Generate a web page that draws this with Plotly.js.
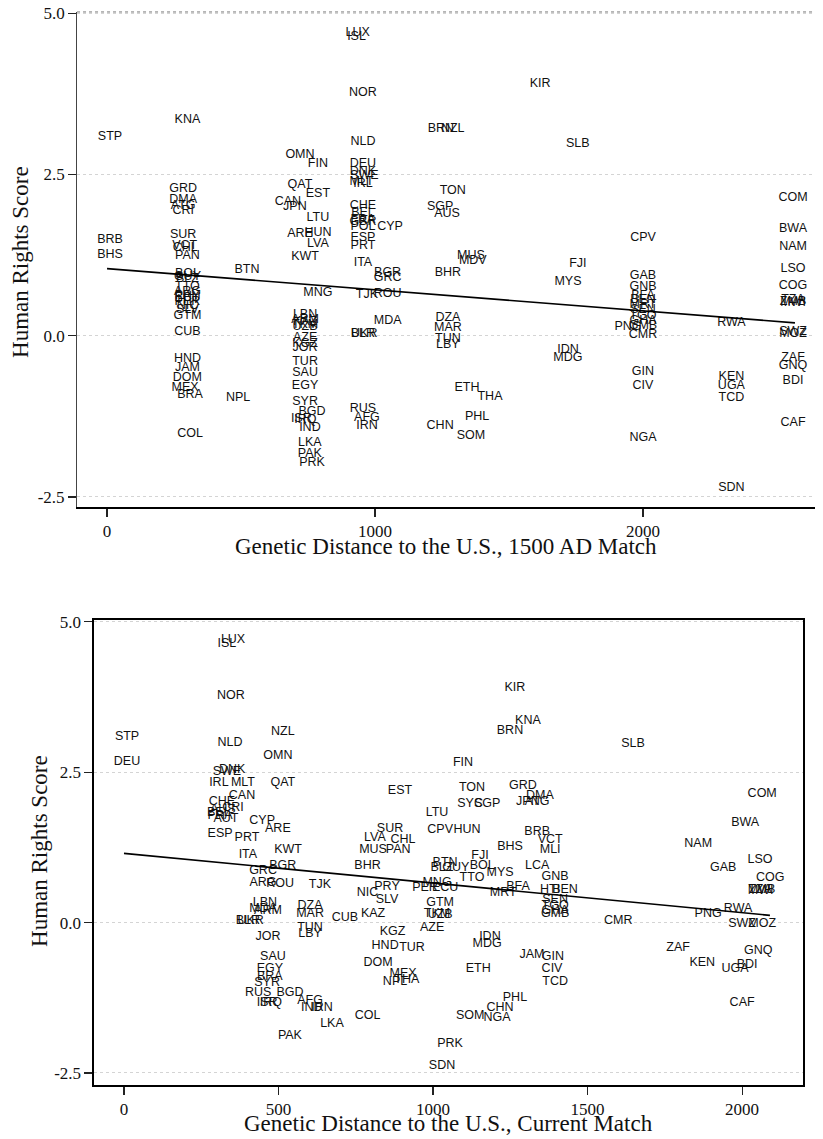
<!DOCTYPE html>
<html>
<head>
<meta charset="utf-8">
<script src="https://cdn.plot.ly/plotly-3.0.1.min.js"></script>
<style>html,body{margin:0;padding:0;background:#fff;}#chart{width:823px;height:1139px;}</style>
</head>
<body>
<div id="chart"></div>
<script>
// ---------- Panel 1: 1500 AD match ----------
const codes1500 = ["KNA","STP","GRD","DMA","ATG","CRI","SUR","BRB","VCT","CHL","BHS","PAN",
"BOL","GUY","BLZ","TTO","ARG","PRY","ECU","HTI","PER","NIC","SLV","GTM","CUB","HND","JAM","DOM","MEX","BRA","NPL","COL","BTN",
"LUX","ISL","NOR","BRN","NZL","NLD","OMN","FIN","DEU","DNK","SWE","MLT","IRL","QAT","EST","CAN","JPN","LTU","CHE","BEL","FRA","GBR","POL","CYP","ARE","HUN","LVA","ESP","PRT","KWT","ITA",
"TON","SGP","AUS","MUS","MDV","BGR","GRC","BHR","MNG","TJK","ROU","LBN","ARM","KAZ","TKM","UZB","MDA","BLR","UKR","DZA","MAR","TUN","LBY",
"AZE","KGZ","JOR","TUR","SAU","EGY","SYR","BGD","ISR","IRQ","IND","RUS","AFG","IRN","ETH","THA","PHL","CHN","SOM","LKA","PAK","PRK",
"KIR","SLB","COM","BWA","CPV","NAM","FJI","MYS","GAB","GNB","BFA","BEN","MRT","SEN","TGO","GHA","GMB","CMR","PNG","RWA",
"LSO","COG","TZA","ZMB","MWI","SWZ","MOZ","ZAF","GNQ","BDI","CAF","IDN","MDG","GIN","CIV","KEN","UGA","TCD","NGA","SDN"];
const dist1500 = [300,11,284,284,284,284,284,11,290,292,11,300,
300,300,300,300,300,300,300,300,300,300,300,300,300,300,300,300,291,310,489,310,522,
935,931,955,1246,1290,955,720,787,955,955,960,950,955,720,787,675,701,787,955,955,955,955,955,1056,720,787,787,955,955,739,955,
1290,1243,1269,1358,1365,1047,1047,1272,787,970,1047,739,739,739,739,739,1047,955,960,1272,1272,1272,1272,
739,739,739,739,739,739,739,765,725,740,757,955,970,970,1343,1429,1381,1243,1358,757,757,765,
1616,1757,2560,2560,2000,2560,1757,1720,2000,2000,2000,2000,2000,2000,2000,2000,2000,2000,1944,2330,
2560,2560,2560,2560,2560,2560,2560,2560,2560,2560,2560,1720,1720,2000,2000,2330,2330,2330,2000,2330];
const hr1500 = [3.34,3.09,2.27,2.11,2.02,1.93,1.57,1.49,1.40,1.36,1.26,1.24,
0.96,0.91,0.88,0.76,0.68,0.62,0.58,0.55,0.52,0.46,0.40,0.30,0.06,-0.36,-0.50,-0.65,-0.81,-0.92,-0.96,-1.52,1.02,
4.70,4.63,3.76,3.21,3.20,3.00,2.80,2.67,2.67,2.54,2.48,2.38,2.35,2.34,2.20,2.07,1.99,1.83,2.02,1.91,1.79,1.76,1.68,1.68,1.58,1.60,1.43,1.51,1.40,1.23,1.13,
2.25,1.99,1.89,1.24,1.16,0.98,0.89,0.98,0.67,0.64,0.65,0.33,0.25,0.21,0.17,0.13,0.23,0.03,0.03,0.28,0.12,-0.05,-0.14,
-0.03,-0.12,-0.19,-0.40,-0.57,-0.78,-1.02,-1.18,-1.29,-1.30,-1.43,-1.13,-1.27,-1.40,-0.81,-0.95,-1.26,-1.40,-1.55,-1.66,-1.83,-1.97,
3.91,2.98,2.14,1.66,1.52,1.38,1.12,0.84,0.93,0.75,0.62,0.55,0.48,0.40,0.31,0.23,0.15,0.02,0.14,0.20,
1.04,0.78,0.55,0.53,0.51,0.06,0.03,-0.34,-0.47,-0.70,-1.35,-0.22,-0.34,-0.56,-0.78,-0.64,-0.78,-0.96,-1.58,-2.36];
const fit1500X = [0, 2567];
const fit1500Y = [1.04, 0.20];

// ---------- Panel 2: current match ----------
const codesCur = ["LUX","ISL","NOR","STP","NLD","NZL","OMN","DEU","QAT","SWE","DNK","IRL","MLT","CAN","CHE","CRI","AUS","BEL","FRA","AUT","CYP","ARE","ESP","PRT","ITA","KWT",
"BGR","GRC","ARG","ROU","TJK","LBN","MDA","ARM","BLR","UKR","JOR","SAU","EGY","BRA","SYR","RUS","ISR","IRQ","PAK","BGD","AFG","IND","IRN","LKA","COL",
"DZA","MAR","TUN","LBY","CUB","KAZ","PRY","NIC","SLV","KGZ","HND","TUR","DOM","MEX","NPL","THA","BHR","BTN","GUY","BLZ","PER","ECU","MNG","GTM","TKM","UZB","AZE",
"IDN","MDG","ETH","PHL","CHN","SOM","NGA","PRK","SDN","FJI","BOL","TTO","MYS","MRT","BFA","KIR","KNA","BRN","FIN","EST","TON","GRD","SYC","SGP","DMA","JPN","ATG",
"LTU","SUR","LVA","CHL","MUS","PAN","CPV","HUN","BRB","VCT","BHS","MLI","LCA","SLB","COM","BWA","NAM","LSO","GAB","COG","TZA","ZMB","MWI",
"GNB","HTI","BEN","SEN","TGO","GHA","GMB","CMR","PNG","RWA","SWZ","MOZ","ZAF","GNQ","KEN","BDI","UGA","CAF","GIN","JAM","CIV","TCD"];
const distCur = [353,333,346,10,343,514,498,10,514,333,350,307,385,382,317,353,320,307,311,330,447,498,311,398,401,531,
514,450,450,505,634,456,450,466,401,410,466,482,472,472,463,434,463,475,537,537,602,608,641,673,788,
602,602,602,602,715,806,851,788,851,869,845,932,822,903,877,915,788,1039,1074,1029,974,1039,1013,1023,1013,1023,997,
1184,1175,1146,1265,1217,1120,1207,1055,1029,1152,1159,1126,1217,1227,1275,1265,1307,1249,1097,893,1126,1291,1120,1175,1346,1307,1337,
1013,861,812,903,806,887,1023,1110,1337,1379,1249,1379,1337,1647,2065,2010,1858,2058,1939,2091,2058,2065,2060,
1395,1379,1427,1395,1395,1395,1395,1599,1890,1987,2000,2065,1793,2052,1871,2016,1977,2000,1388,1320,1385,1395];
const hrCur = [4.70,4.63,3.77,3.09,2.99,3.17,2.77,2.67,2.33,2.51,2.53,2.33,2.33,2.11,2.01,1.91,1.88,1.83,1.78,1.73,1.69,1.56,1.48,1.40,1.13,1.20,
0.95,0.86,0.66,0.65,0.62,0.32,0.22,0.20,0.02,0.02,-0.24,-0.57,-0.77,-0.91,-1.01,-1.17,-1.34,-1.34,-1.88,-1.17,-1.30,-1.42,-1.42,-1.68,-1.55,
0.28,0.15,-0.08,-0.18,0.07,0.15,0.60,0.49,0.38,-0.15,-0.38,-0.42,-0.67,-0.85,-0.98,-0.96,0.95,1.00,0.91,0.91,0.57,0.58,0.66,0.32,0.15,0.13,-0.08,
-0.24,-0.35,-0.77,-1.26,-1.42,-1.55,-1.58,-2.01,-2.38,1.11,0.95,0.75,0.83,0.49,0.60,3.90,3.36,3.19,2.66,2.19,2.24,2.28,1.98,1.98,2.11,2.01,2.01,
1.83,1.56,1.41,1.37,1.20,1.20,1.54,1.54,1.51,1.37,1.25,1.20,0.95,2.97,2.14,1.66,1.31,1.04,0.91,0.75,0.55,0.55,0.53,
0.76,0.55,0.55,0.38,0.27,0.20,0.15,0.02,0.15,0.22,-0.02,-0.03,-0.42,-0.47,-0.67,-0.71,-0.77,-1.34,-0.57,-0.53,-0.77,-0.98];
const fitCurX = [0, 2090];
const fitCurY = [1.15, 0.12];

// ---------- tick labels and titles ----------
const yTickVals = [-2.5, 0, 2.5, 5];
const yTickText = ["-2.5", "0.0", "2.5", "5.0"];
const x1TickVals = [0, 1000, 2000];
const x2TickVals = [0, 500, 1000, 1500, 2000];
const yTitle = "Human Rights Score";
const x1Title = "Genetic Distance to the U.S., 1500 AD Match";
const x2Title = "Genetic Distance to the U.S., Current Match";

const labelFont = {family: "Liberation Sans, Arial, sans-serif", size: 12.5, color: "#111"};
const serif = "Liberation Serif, Times New Roman, serif";
const titleFont = {family: serif, size: 23, color: "#111"};

const traces = [
  {x: dist1500, y: hr1500, text: codes1500, mode: "text", type: "scatter",
   textposition: "middle center", textfont: labelFont, xaxis: "x", yaxis: "y", cliponaxis: false, hoverinfo: "skip"},
  {x: fit1500X, y: fit1500Y, mode: "lines", type: "scatter", line: {color: "#000", width: 1.6},
   xaxis: "x", yaxis: "y", hoverinfo: "skip"},
  {x: distCur, y: hrCur, text: codesCur, mode: "text", type: "scatter",
   textposition: "middle center", textfont: labelFont, xaxis: "x2", yaxis: "y2", cliponaxis: false, hoverinfo: "skip"},
  {x: fitCurX, y: fitCurY, mode: "lines", type: "scatter", line: {color: "#000", width: 1.6},
   xaxis: "x2", yaxis: "y2", hoverinfo: "skip"}
];

const commonY = {
  tickmode: "array", tickvals: yTickVals, ticktext: yTickText,
  ticks: "outside", ticklen: 8, tickcolor: "#222", tickwidth: 1.2,
  tickfont: {family: serif, size: 17, color: "#111"},
  showgrid: true, gridcolor: "#d4d4d4", griddash: "dot", gridwidth: 1,
  zeroline: false, showline: true, linecolor: "#444", linewidth: 1
};
const commonX = {
  tickmode: "array", ticks: "outside", ticklen: 8, tickcolor: "#222", tickwidth: 1.2,
  tickfont: {family: serif, size: 17, color: "#111"},
  showgrid: false, zeroline: false, showline: true, linecolor: "#000", linewidth: 1.8
};

const layout = {
  width: 823, height: 1139,
  margin: {l: 0, r: 0, t: 0, b: 0},
  paper_bgcolor: "#fff", plot_bgcolor: "#fff",
  showlegend: false, hovermode: false,
  xaxis: Object.assign({}, commonX, {
    domain: [0.0936, 0.9903], anchor: "y", range: [-112, 2642], tickvals: x1TickVals
  }),
  yaxis: Object.assign({}, commonY, {
    domain: [0.5549, 0.9895], anchor: "x", range: [-2.655, 5.02]
  }),
  xaxis2: Object.assign({}, commonX, {
    domain: [0.1142, 0.9757], anchor: "y2", range: [-97, 2197], tickvals: x2TickVals, mirror: true
  }),
  yaxis2: Object.assign({}, commonY, {
    domain: [0.0474, 0.4557], anchor: "x2", range: [-2.70, 5.03], mirror: true, linecolor: "#000", linewidth: 1.5
  }),
  annotations: [
    {text: yTitle, xref: "paper", yref: "paper", x: 0.0255, y: 0.770, xanchor: "center", yanchor: "middle",
     textangle: -90, showarrow: false, font: titleFont},
    {text: x1Title, xref: "paper", yref: "paper", x: 0.542, y: 0.5198, xanchor: "center", yanchor: "middle",
     showarrow: false, font: titleFont},
    {text: yTitle, xref: "paper", yref: "paper", x: 0.0486, y: 0.2529, xanchor: "center", yanchor: "middle",
     textangle: -90, showarrow: false, font: titleFont},
    {text: x2Title, xref: "paper", yref: "paper", x: 0.5455, y: 0.0132, xanchor: "center", yanchor: "middle",
     showarrow: false, font: titleFont}
  ],
  shapes: [
    {type: "line", xref: "x domain", yref: "y domain", x0: 0, x1: 1, y0: 1, y1: 1,
     line: {color: "#777", width: 1, dash: "dot"}}
  ]
};

Plotly.newPlot("chart", traces, layout, {staticPlot: true, displayModeBar: false});
</script>
</body>
</html>
